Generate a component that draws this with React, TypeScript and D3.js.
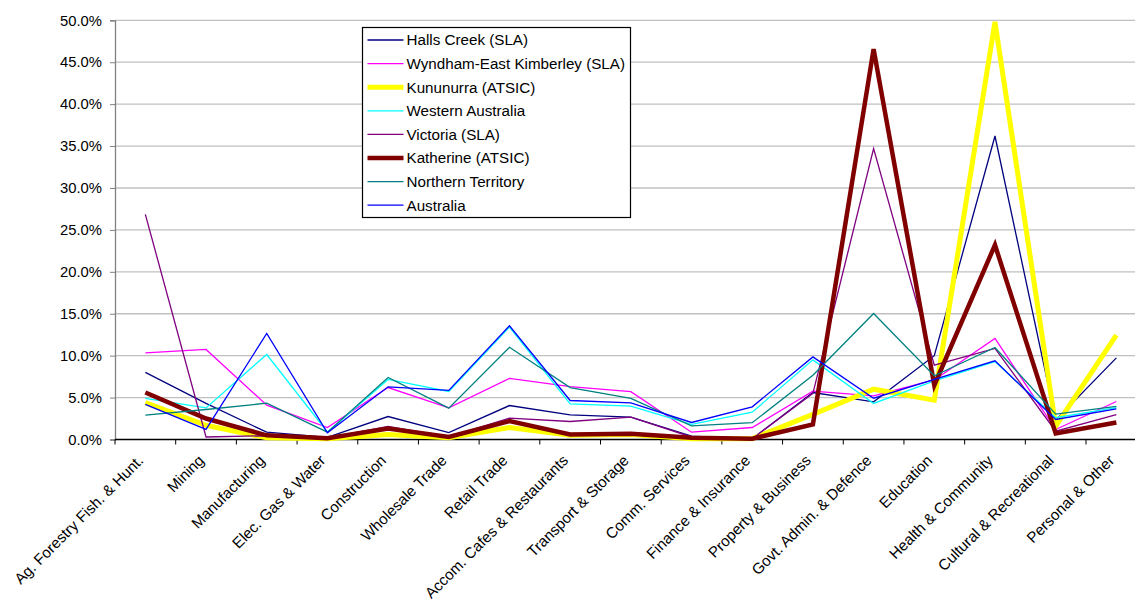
import * as d3 from "d3";
import React, { useEffect, useRef } from "react";

const categories = [
  "Ag. Forestry Fish. & Hunt.", "Mining", "Manufacturing", "Elec. Gas & Water",
  "Construction", "Wholesale Trade", "Retail Trade", "Accom. Cafes & Restaurants",
  "Transport & Storage", "Comm. Services", "Finance & Insurance", "Property & Business",
  "Govt. Admin. & Defence", "Education", "Health & Community", "Cultural & Recreational",
  "Personal & Other",
];

const hallsCreek = [8.0, 4.3, 0.87, 0.25, 2.74, 0.83, 4.05, 2.94, 2.66, 0.4, 0.1, 5.6, 4.5, 10.0, 36.2, 2.3, 9.74];
const wyndham = [10.33, 10.74, 4.1, 1.43, 6.2, 3.77, 7.3, 6.3, 5.7, 0.87, 1.43, 5.76, 5.2, 7.1, 12.05, 1.19, 4.53];
const kununurra = [4.4, 1.7, 0.2, 0.1, 0.6, 0.2, 1.43, 0.5, 0.6, 0.1, 0.1, 3.0, 6.0, 4.69, 49.8, 1.59, 12.45];
const westernAustralia = [4.9, 3.77, 10.14, 0.9, 7.16, 5.73, 13.4, 4.25, 3.97, 1.8, 3.26, 9.5, 4.3, 7.0, 9.3, 2.6, 3.8];
const victoria = [26.85, 0.3, 0.45, 0.2, 1.55, 0.3, 2.54, 2.15, 2.66, 0.3, 0.1, 5.5, 34.7, 8.87, 10.86, 0.99, 2.98];
const katherine = [5.6, 2.5, 0.5, 0.15, 1.3, 0.3, 2.2, 0.6, 0.7, 0.2, 0.1, 1.8, 46.57, 6.48, 23.2, 0.72, 2.03];
const northernTerritory = [2.9, 3.58, 4.33, 0.87, 7.4, 3.74, 11.0, 6.2, 4.9, 1.63, 2.0, 7.67, 15.03, 7.6, 10.98, 3.02, 3.94];
const australia = [4.2, 1.2, 12.65, 0.8, 6.28, 5.85, 13.56, 4.65, 4.37, 2.03, 3.9, 9.85, 4.93, 7.16, 9.38, 2.39, 3.65];

const yTicks = [0, 5, 10, 15, 20, 25, 30, 35, 40, 45, 50];

const series = [
  { name: "Halls Creek (SLA)", values: hallsCreek, color: "#000080", width: 1.3 },
  { name: "Wyndham-East Kimberley (SLA)", values: wyndham, color: "#ff00ff", width: 1.3 },
  { name: "Kununurra (ATSIC)", values: kununurra, color: "#ffff00", width: 5 },
  { name: "Western Australia", values: westernAustralia, color: "#00ffff", width: 1.3 },
  { name: "Victoria (SLA)", values: victoria, color: "#800080", width: 1.3 },
  { name: "Katherine (ATSIC)", values: katherine, color: "#800000", width: 4.5 },
  { name: "Northern Territory", values: northernTerritory, color: "#008080", width: 1.3 },
  { name: "Australia", values: australia, color: "#0000ff", width: 1.3 },
];

const FONT = "'Liberation Sans', Arial, sans-serif";

const App: React.FC = () => {
  const svgRef = useRef<SVGSVGElement | null>(null);

  useEffect(() => {
    if (!svgRef.current) {
      return
    }
    const svg = d3.select(svgRef.current);
    svg.selectAll("*").remove();

    const left = 115, right = 1146.7, top = 20.3, bottom = 439.5;

    const x = d3.scaleBand<string>().domain(categories).range([left, right]);
    const y = d3.scaleLinear().domain([0, 50]).range([bottom, top]);

    // gridlines
    svg.append("g")
      .selectAll("line")
      .data(yTicks.filter(t => t > 0))
      .enter().append("line")
      .attr("x1", left).attr("x2", 1135)
      .attr("y1", d => y(d)).attr("y2", d => y(d))
      .attr("stroke", "#c0c0c0")
      .attr("stroke-width", 1.3);

    // y axis
    const yAxis = svg.append("g")
      .attr("transform", `translate(${left},0)`)
      .call(d3.axisLeft(y).tickValues(yTicks).tickSize(5).tickPadding(8)
        .tickFormat(d => `${(d as number).toFixed(1)}%`));
    yAxis.select(".domain").attr("stroke", "#808080").attr("stroke-width", 1.3);
    yAxis.selectAll(".tick line").attr("stroke", "#808080");
    yAxis.selectAll("text")
      .attr("font-family", FONT).attr("font-size", 14.8).attr("fill", "#000");

    // x axis
    const xAxis = svg.append("g")
      .attr("transform", `translate(0,${bottom})`);
    xAxis.append("line")
      .attr("x1", left).attr("x2", right)
      .attr("stroke", "#000").attr("stroke-width", 1.3);
    xAxis.selectAll(".xtick")
      .data(d3.range(categories.length + 1))
      .enter().append("line")
      .attr("x1", i => left + i * x.step()).attr("x2", i => left + i * x.step())
      .attr("y1", 0).attr("y2", 5)
      .attr("stroke", "#000");
    xAxis.selectAll(".xlabel")
      .data(categories)
      .enter().append("text")
      .attr("transform", d => `translate(${x(d)! + x.bandwidth() / 2 - 1},22) rotate(-45)`)
      .attr("text-anchor", "end")
      .attr("font-family", FONT).attr("font-size", 15.2).attr("fill", "#000")
      .text(d => d);

    // lines
    const line = d3.line<number>()
      .x((_, i) => x(categories[i])! + x.bandwidth() / 2)
      .y(d => y(d));

    svg.append("g")
      .selectAll("path")
      .data(series)
      .enter().append("path")
      .attr("d", d => line(d.values))
      .attr("fill", "none")
      .attr("stroke", d => d.color)
      .attr("stroke-width", d => d.width)
      .attr("stroke-linejoin", "miter");

    // legend
    const lg = svg.append("g").attr("transform", "translate(362.5,27.5)");
    lg.append("rect")
      .attr("width", 268).attr("height", 190)
      .attr("fill", "#fff").attr("stroke", "#000").attr("stroke-width", 1.2);
    const item = lg.selectAll(".item")
      .data(series)
      .enter().append("g")
      .attr("transform", (_, i) => `translate(0,${12.5 + i * 23.6})`);
    item.append("line")
      .attr("x1", 5).attr("x2", 41)
      .attr("stroke", d => d.color)
      .attr("stroke-width", d => d.width);
    item.append("text")
      .attr("x", 44).attr("dy", "0.36em")
      .attr("font-family", FONT).attr("font-size", 15.2).attr("fill", "#000")
      .text(d => d.name);
  }, []);

  return (
    <svg
      ref={svgRef}
      width={1135}
      height={601}
      style={{ position: "absolute", left: 0, top: 0, background: "#fff" }}
    />
  );
}

export default App;
